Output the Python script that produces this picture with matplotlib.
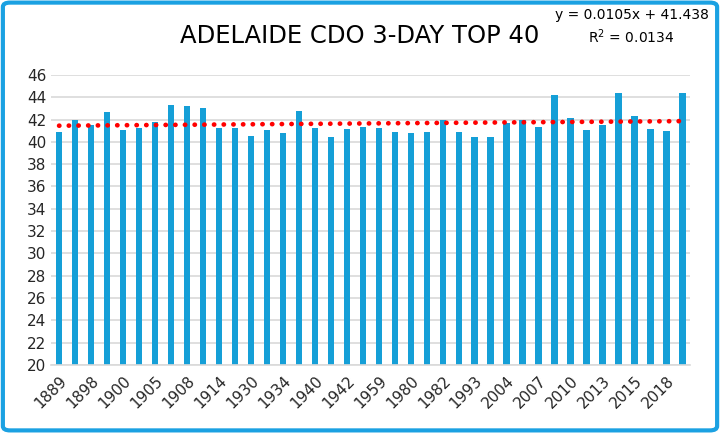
import matplotlib.pyplot as plt
import numpy as np
from matplotlib.patches import FancyBboxPatch

# bar heights, one per event (40 bars)
temps = [40.9, 42.0, 41.5, 42.7, 41.1, 41.25, 41.8, 43.3, 43.2, 43.0,
         41.25, 41.25, 40.55, 41.1, 40.8, 42.8, 41.25, 40.4, 41.15, 41.35,
         41.25, 40.9, 40.8, 40.9, 41.95, 40.9, 40.45, 40.4, 41.7, 41.95,
         41.35, 44.2, 42.1, 41.05, 41.5, 44.35, 42.35, 41.15, 41.0, 44.35]
# only every other category label is shown on the axis
year_labels = ['1889', '1898', '1900', '1905', '1908', '1914', '1930', '1934',
               '1940', '1942', '1959', '1980', '1982', '1993', '2004', '2007',
               '2010', '2013', '2015', '2018']
slope = 0.0105
intercept = 41.438
r2 = 0.0134

blue = '#159fd7'
x = np.arange(len(temps))

fig = plt.figure(figsize=(7.2, 4.33), dpi=100)
ax = fig.add_axes([0.071, 0.157, 0.888, 0.670])

ax.bar(x, temps, width=0.4, color=blue, zorder=2)

trend = intercept + slope * (x + 1)
ax.plot(x, trend, color='red', linewidth=3.4, linestyle=(0, (0.05, 2.0)),
        dash_capstyle='round', zorder=3)

ax.set_ylim(20, 46)
ax.set_xlim(-0.5, len(temps) - 0.5)
ax.set_yticks(np.arange(20, 47, 2))
ax.grid(axis='y', color='#d9d9d9', linewidth=1.2, zorder=0)
ax.set_xticks(x[::2])
ax.set_xticklabels(year_labels, rotation=45, ha='right', rotation_mode='anchor')
ax.tick_params(axis='both', length=0, labelsize=11, colors='#262626')
ax.tick_params(axis='x', pad=6)
for s in ax.spines.values():
    s.set_visible(False)
ax.spines['bottom'].set_visible(True)
ax.spines['bottom'].set_color('#d9d9d9')
ax.spines['bottom'].set_linewidth(1.2)

fig.text(0.50, 0.918, 'ADELAIDE CDO 3-DAY TOP 40', ha='center', va='center',
         fontsize=17.5, color='black')
fig.text(0.877, 0.965, 'y = %.4fx + %.3f' % (slope, intercept), ha='center',
         va='center', fontsize=10)
fig.text(0.877, 0.915, 'R$^2$ = %.4f' % r2, ha='center', va='center',
         fontsize=10)

border = FancyBboxPatch((0.004, 0.006), 0.992, 0.988,
                        boxstyle='round,pad=0,rounding_size=0.01',
                        transform=fig.transFigure, facecolor='none',
                        edgecolor='#1ba1e2', linewidth=3)
fig.patches.append(border)

fig.savefig('out.png', dpi=100)
